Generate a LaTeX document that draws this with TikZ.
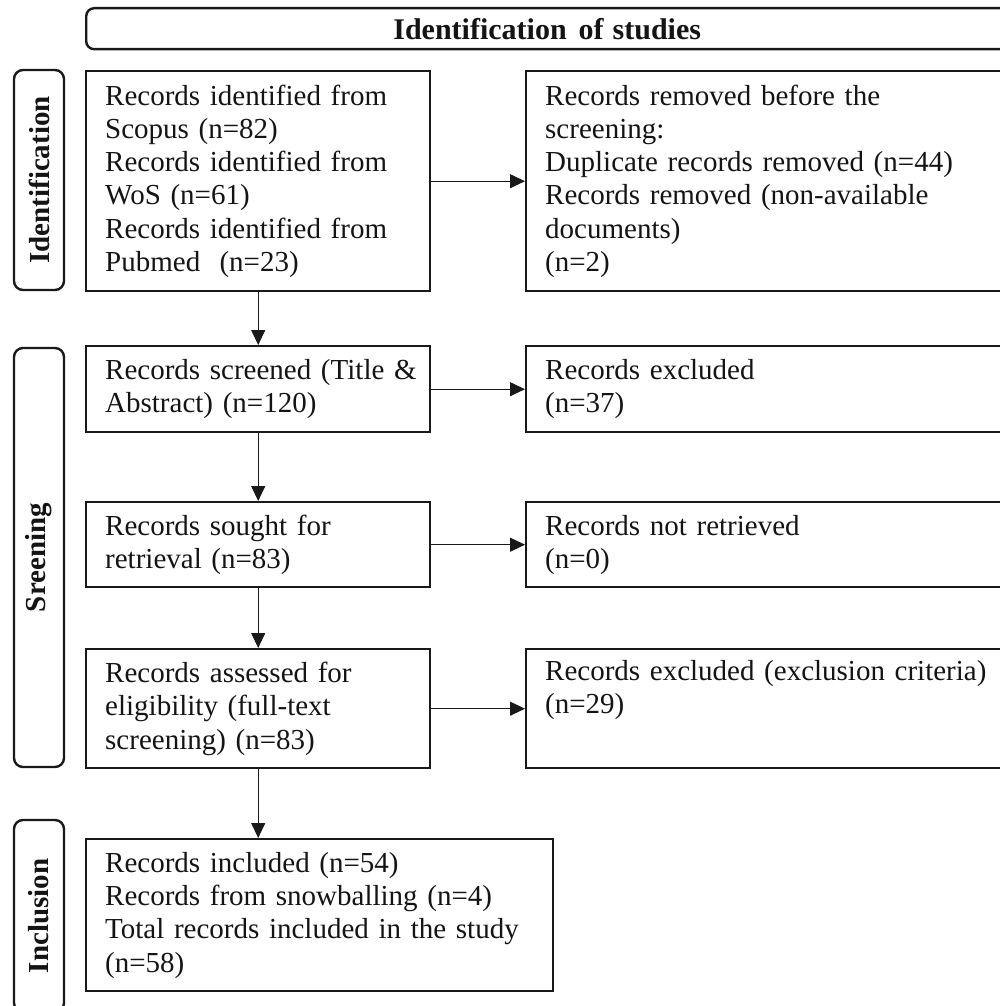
\documentclass[tikz,border=0pt]{standalone}
\usepackage{fontspec}
\setmainfont{Liberation Serif}
\usetikzlibrary{arrows.meta}
\begin{document}
\begin{tikzpicture}[x=1pt,y=-1pt,
  ink/.style={draw=black!90, text=black!92},
  box/.style={ink, line width=2.4pt, anchor=north west, align=left, inner xsep=19pt, inner ysep=0pt,
    font=\fontsize{29}{33.3}\selectfont},
  sidebox/.style={ink, line width=2.4pt, rounded corners=9pt, rotate=90, minimum height=50pt, inner sep=0pt,
    font=\fontsize{29}{33.3}\selectfont\bfseries},
  arr/.style={draw=black!90, line width=1.1pt, -{Triangle[length=15pt,width=14pt]}}]
\useasboundingbox (0,0) rectangle (1000,1006);
\clip (0,0) rectangle (1000,1006);

% title bar
\node[ink, line width=2.4pt, rounded corners=8pt, anchor=north west, minimum width=922pt, minimum height=41pt,
  inner sep=0pt, font=\fontsize{30}{33}\selectfont\bfseries] (title) at (85,7)
  {Identification\hspace{12pt}of\hspace{9pt}studies};

% phase labels
\node[sidebox, minimum width=220pt] (sid) at (39,180) {Identification};
\node[sidebox, minimum width=419pt] (sscr) at (39,557.5) {Sreening};
\node[sidebox, minimum width=192pt] (sinc) at (39,916) {Inclusion};

% left column
\node[box, text width=306pt, minimum height=220pt] (b1) at (85,70)
  {Records identified from\\Scopus (n=82)\\Records identified from\\WoS (n=61)\\Records identified from\\Pubmed\ \ (n=23)};
\node[box, text width=306pt, minimum height=86pt] (b2) at (85,345)
  {\mbox{Records screened (Title \&}\\Abstract) (n=120)};
\node[box, text width=306pt, minimum height=85pt] (b3) at (85,501)
  {Records sought for\\retrieval (n=83)};
\node[box, text width=306pt, minimum height=119pt] (b4) at (85,648)
  {Records assessed for\\eligibility (full-text\\screening) (n=83)};
\node[box, text width=429pt, minimum height=152pt] (b5) at (85,838)
  {Records included (n=54)\\Records from snowballing (n=4)\\Total records included in the study\\(n=58)};

% right column
\node[box, text width=447pt, minimum height=220pt] (r1) at (525,70)
  {Records removed before the\\screening:\\Duplicate records removed (n=44)\\Records removed (non-available\\documents)\\(n=2)};
\node[box, text width=447pt, minimum height=86pt] (r2) at (525,345)
  {Records excluded\\(n=37)};
\node[box, text width=447pt, minimum height=85pt] (r3) at (525,501)
  {Records not retrieved\\(n=0)};
\node[box, text width=447pt, minimum height=119pt] (r4) at (525,648)
  {Records excluded (exclusion criteria)\\(n=29)\\\strut};

% connectors
\draw[arr] (b1.east) -- (r1.west);
\draw[arr] (b2.east) -- (r2.west);
\draw[arr] (b3.east) -- (r3.west);
\draw[arr] (b4.east) -- (r4.west);
\draw[arr] (b1.south) -- (b2.north);
\draw[arr] (b2.south) -- (b3.north);
\draw[arr] (b3.south) -- (b4.north);
\draw[arr] (b4.south) -- (b4.south |- b5.north);
\end{tikzpicture}
\end{document}
